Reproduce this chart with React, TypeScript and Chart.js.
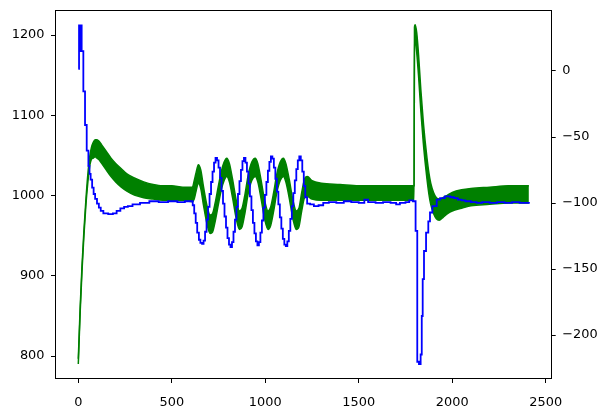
import React, { useEffect, useRef } from "react";
import { Chart, registerables } from "chart.js";

Chart.register(...registerables);

// ---- Axis ticks ----
const xTicks = [0, 500, 1000, 1500, 2000, 2500];
const leftTicks = [800, 900, 1000, 1100, 1200];
const rightTicks = [-200, -150, -100, -50, 0];

// ---- Blue series (left axis), stepped ----
const blueX = [
  0, 4, 12, 14, 18, 27, 36, 45, 54, 60, 66, 74, 82, 90, 100, 110, 120, 134, 160, 185, 205, 225, 245, 265, 290, 330, 380, 430, 480, 530, 570,
  612, 620, 628, 636, 645, 653, 662, 670, 678, 686, 694, 702, 710, 718, 726, 734, 742, 750, 758, 766, 774, 782, 790, 798, 806, 814, 822,
  830, 838, 846, 854, 862, 870, 878, 886, 894, 902, 910, 918, 926, 934, 942, 950, 958, 966, 974, 982, 990, 998, 1006, 1014, 1022, 1030,
  1038, 1046, 1054, 1062, 1070, 1078, 1086, 1094, 1102, 1110, 1118, 1126, 1134, 1142, 1150, 1158, 1166, 1174, 1182, 1190, 1198, 1206,
  1214, 1224, 1240, 1260, 1285, 1310, 1340, 1380, 1420, 1460, 1500, 1530, 1550, 1590, 1630, 1670, 1700, 1720, 1750, 1770, 1790,
  1804, 1813, 1822, 1831, 1837, 1842, 1849, 1860, 1872, 1881, 1894, 1917, 1935, 1960, 1990, 2010, 2030, 2050, 2070, 2100, 2130, 2160,
  2200, 2240, 2280, 2320, 2360, 2410,
];
const blueY = [
  1158, 1212, 1180, 1212, 1180, 1130, 1088, 1056, 1037, 1027, 1020, 1010, 1002, 996, 990, 985, 981, 978, 977, 978, 981, 984, 986, 987, 989, 991, 993, 992, 993, 992, 993,
  988, 978, 966, 954, 945, 941, 940, 944, 955, 970, 986, 1002, 1017, 1030, 1041, 1047, 1044, 1035, 1022, 1006, 990, 974, 960, 947, 939, 936, 942,
  955, 970, 986, 1002, 1018, 1032, 1043, 1047, 1041, 1030, 1015, 999, 982, 966, 953, 943, 938, 942, 954, 969, 985, 1001, 1017, 1031, 1042, 1049,
  1046, 1035, 1021, 1005, 989, 973, 959, 946, 939, 937, 943, 956, 971, 987, 1003, 1019, 1033, 1044, 1049, 1044, 1030, 1012,
  998, 990, 989, 987, 988, 991, 992, 991, 993, 992, 991, 995, 992, 991, 992, 991, 989, 991, 992, 994, 993,
  956, 793, 790, 802, 850, 896, 931, 954, 968, 979, 987, 995, 997, 999, 998, 997, 995, 994, 993, 992, 991, 992,
  991, 992, 991, 992, 991, 992,
];

// ---- Green series (right axis): envelope of the fast oscillation ----
const greenX = [
  0, 10, 20, 30, 40, 50, 60, 70, 80, 90, 100, 110, 125, 150, 175, 200, 230, 260, 300, 350, 400, 450, 500, 560, 610,
  620, 630, 642, 655, 670, 690, 705, 718, 732, 748, 765, 780, 794, 808, 825, 845, 862, 876, 892, 910, 928, 946, 960, 978, 998,
  1015, 1029, 1045, 1062, 1080, 1097, 1110, 1128, 1148, 1166, 1180, 1195, 1210, 1225, 1250, 1300, 1400, 1500, 1600, 1700, 1796,
  1798, 1802, 1810, 1820, 1832, 1845, 1855, 1865, 1875, 1885, 1900, 1915, 1930, 1950, 1975, 2000, 2050, 2100, 2200, 2300, 2410,
];
const greenUpper = [
  -218, -179, -147, -121, -99, -80, -66, -58, -54, -52, -52, -53, -56, -61, -66, -70, -74, -78, -81, -84, -86, -87, -87, -88, -88,
  -83, -77, -71, -75, -88, -103, -109, -108, -100, -88, -76, -69, -66, -70, -82, -98, -106, -104, -93, -78, -69, -66, -70, -83, -99,
  -106, -103, -92, -78, -69, -66, -70, -82, -98, -106, -104, -92, -82, -80, -83, -85, -86, -87, -87, -87, -87,
  33, 35, 29, 12, -14, -38, -53, -66, -77, -85, -92, -96, -97, -96, -94, -92, -90, -89, -88, -87, -87,
];
const greenLower = [
  -222, -183, -151, -125, -103, -86, -73, -67, -66, -65, -66, -67, -70, -75, -80, -84, -88, -91, -94, -96, -97, -98, -98, -98, -99,
  -97, -91, -85, -89, -102, -117, -123, -122, -114, -102, -90, -83, -80, -84, -96, -112, -120, -118, -107, -92, -83, -80, -84, -97, -113,
  -120, -117, -106, -92, -83, -80, -84, -96, -112, -120, -118, -106, -96, -95, -97, -98, -98, -98, -98, -98, -98,
  28, 24, 14, -4, -30, -54, -69, -82, -93, -101, -108, -112, -113, -111, -108, -106, -104, -102, -101, -100, -100,
];

const FONT = { family: "'DejaVu Sans', sans-serif", size: 12.9 };
const fmt = (v: number | string) => String(v).replace("-", "\u2212");

const boxPlugin = {
  id: "box",
  afterDraw(chart: any) {
    const { ctx, chartArea: a } = chart;
    ctx.save();
    ctx.strokeStyle = "#000";
    ctx.lineWidth = 1;
    ctx.strokeRect(Math.round(a.left) + 0.5, Math.round(a.top) + 0.5, Math.round(a.right - a.left) - 1, Math.round(a.bottom - a.top) - 1);
    ctx.restore();
  },
};

const fitY = (w: number) => (s: any) => {
  s.width = w;
  s.paddingTop = 0;
  s.paddingBottom = 0;
};

export default function App() {
  const ref = useRef<HTMLCanvasElement | null>(null);
  useEffect(() => {
    document.body.style.margin = "0";
    const canvas = ref.current!;
    const blue = blueX.map((x, i) => ({ x, y: blueY[i] }));
    const gUp = greenX.map((x, i) => ({ x, y: greenUpper[i] }));
    const gLo = greenX.map((x, i) => ({ x, y: greenLower[i] }));
    const tickGrid = {
      display: true,
      drawOnChartArea: false,
      drawTicks: true,
      tickLength: 4,
      color: "#000",
      tickColor: "#000",
      lineWidth: 1,
    };
    const chart = new Chart(canvas, {
      type: "line",
      data: {
        datasets: [
          {
            data: blue,
            yAxisID: "y",
            borderColor: "#0000ff",
            borderWidth: 1.8,
            pointRadius: 0,
            stepped: "before",
            fill: false,
          },
          {
            data: gUp,
            yAxisID: "y1",
            borderColor: "#008000",
            backgroundColor: "#008000",
            borderWidth: 1.5,
            pointRadius: 0,
            cubicInterpolationMode: "monotone",
            fill: false,
          },
          {
            data: gLo,
            yAxisID: "y1",
            borderColor: "#008000",
            backgroundColor: "#008000",
            borderWidth: 1.5,
            pointRadius: 0,
            cubicInterpolationMode: "monotone",
            fill: "-1",
          },
        ],
      },
      options: {
        animation: false,
        responsive: false,
        events: [],
        layout: { padding: { top: 10, left: 0, right: 0, bottom: 0 }, autoPadding: false },
        plugins: { legend: { display: false }, tooltip: { enabled: false } },
        scales: {
          x: {
            type: "linear",
            min: -124.6,
            max: 2532,
            afterBuildTicks: (s: any) => {
              s.ticks = xTicks.map((v) => ({ value: v }));
            },
            afterFit: (s: any) => {
              s.height = 34;
              s.paddingLeft = 0;
              s.paddingRight = 0;
            },
            ticks: { font: FONT, color: "#000", padding: 12, maxRotation: 0, autoSkip: false, callback: (v: any) => fmt(v) },
            grid: tickGrid,
            border: { display: false },
          },
          y: {
            type: "linear",
            position: "left",
            min: 771.5,
            max: 1231.3,
            afterBuildTicks: (s: any) => {
              s.ticks = leftTicks.map((v) => ({ value: v }));
            },
            afterFit: fitY(55),
            ticks: { font: FONT, color: "#000", padding: 6.5, autoSkip: false, callback: (v: any) => fmt(v) },
            grid: tickGrid,
            border: { display: false },
          },
          y1: {
            type: "linear",
            position: "right",
            min: -233.3,
            max: 46.2,
            afterBuildTicks: (s: any) => {
              s.ticks = rightTicks.map((v) => ({ value: v }));
            },
            afterFit: fitY(56.3),
            ticks: { font: FONT, color: "#000", padding: 6.5, autoSkip: false, callback: (v: any) => fmt(v) },
            grid: tickGrid,
            border: { display: false },
          },
        },
      } as any,
      plugins: [boxPlugin],
    });
    return () => chart.destroy();
  }, []);
  return (
    <div style={{ width: 608, height: 413, background: "#fff" }}>
      <canvas ref={ref} width={608} height={413} style={{ display: "block", width: 608, height: 413 }} />
    </div>
  );
}
